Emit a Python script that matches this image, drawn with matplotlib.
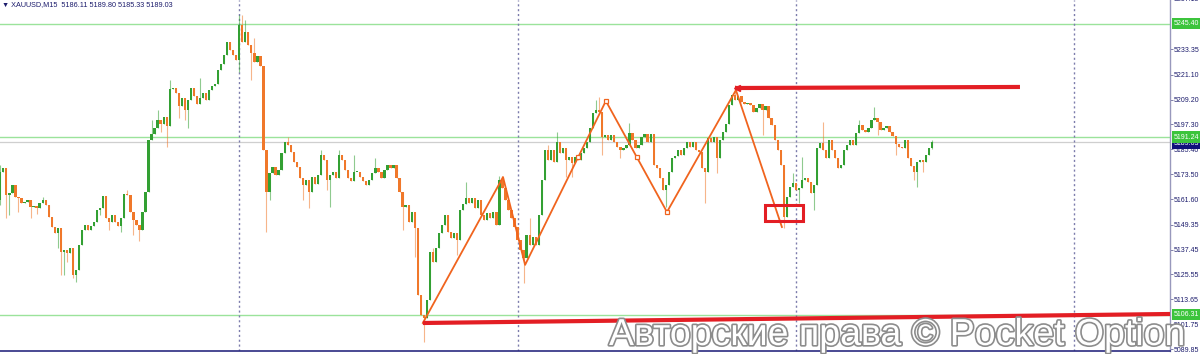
import matplotlib
matplotlib.use('Agg')
import matplotlib.pyplot as plt
import matplotlib.patheffects as pe
import matplotlib.transforms as mtransforms
from matplotlib.patches import Rectangle

# ---------------- data (XAUUSD M15) ----------------
first_open = 5161.1
closes = [
    5174.5, 5176.4, 5163.5, 5164.5, 5168.3, 5162.6, 5162.1, 5159.7, 5160.2, 5161.1,
    5157.8, 5158.3, 5157.3, 5159.7, 5161.1, 5158.7, 5153.0, 5148.2, 5145.4, 5147.7,
    5136.3, 5137.2, 5135.8, 5138.2, 5125.3, 5127.7, 5139.6, 5146.8, 5149.2, 5146.8,
    5148.7, 5150.6, 5156.4, 5157.3, 5163.1, 5152.5, 5150.6, 5154.0, 5150.6, 5148.7,
    5152.5, 5164.0, 5163.5, 5155.4, 5151.6, 5149.2, 5146.8, 5155.4, 5165.0, 5189.8,
    5192.7, 5195.6, 5199.4, 5197.5, 5200.8, 5196.5, 5214.2, 5214.7, 5212.3, 5206.1,
    5209.9, 5204.2, 5209.0, 5214.7, 5210.9, 5207.1, 5209.9, 5212.3, 5209.0, 5213.7,
    5215.7, 5216.6, 5223.3, 5226.2, 5230.5, 5236.7, 5232.9, 5230.5, 5228.1, 5244.8,
    5236.7, 5241.5, 5235.3, 5231.5, 5227.1, 5230.0, 5225.2, 5185.1, 5165.0, 5174.1,
    5176.9, 5173.1, 5175.5, 5183.6, 5188.9, 5187.4, 5184.1, 5179.3, 5176.9, 5171.7,
    5168.3, 5170.7, 5165.0, 5172.1, 5168.8, 5173.1, 5182.7, 5180.3, 5170.7, 5173.1,
    5174.5, 5171.7, 5182.7, 5180.3, 5175.5, 5171.7, 5170.2, 5174.5, 5174.6, 5172.1,
    5170.2, 5168.3, 5170.7, 5174.1, 5176.4, 5174.5, 5171.7, 5175.5, 5177.9, 5176.4,
    5177.9, 5171.7, 5165.0, 5157.8, 5158.7, 5150.6, 5155.4, 5147.7, 5115.7, 5106.1,
    5104.7, 5113.3, 5136.3, 5131.5, 5138.2, 5145.4, 5149.2, 5154.0, 5145.8, 5143.0,
    5145.4, 5142.0, 5156.4, 5159.2, 5162.1, 5159.7, 5162.1, 5157.3, 5161.1, 5154.0,
    5151.6, 5154.9, 5152.5, 5155.4, 5149.2, 5170.7, 5166.9, 5161.1, 5156.4, 5152.5,
    5148.2, 5142.0, 5137.2, 5133.4, 5144.4, 5139.6, 5143.4, 5139.6, 5154.0, 5170.7,
    5185.1, 5180.3, 5185.1, 5179.3, 5188.9, 5183.6, 5186.0, 5180.3, 5181.7, 5178.8,
    5181.7, 5180.3, 5183.6, 5186.0, 5188.9, 5195.6, 5202.8, 5204.2, 5203.2, 5191.3,
    5192.2, 5189.8, 5192.2, 5188.9, 5186.5, 5185.1, 5186.0, 5187.4, 5193.2, 5189.8,
    5186.0, 5187.4, 5191.3, 5192.7, 5188.9, 5192.7, 5177.9, 5176.4, 5171.7, 5165.9,
    5168.3, 5174.5, 5181.2, 5182.2, 5185.1, 5182.7, 5186.0, 5188.9, 5186.5, 5188.9,
    5185.1, 5184.1, 5176.4, 5174.5, 5190.8, 5188.9, 5191.3, 5181.2, 5189.8, 5193.7,
    5197.5, 5206.6, 5211.4, 5209.0, 5210.9, 5208.0, 5207.1, 5207.5, 5206.6, 5203.2,
    5205.3, 5207.1, 5204.2, 5206.1, 5200.4, 5197.0, 5189.8, 5185.1, 5177.9, 5153.0,
    5162.6, 5167.4, 5169.3, 5165.9, 5166.9, 5170.7, 5171.7, 5169.7, 5164.5, 5168.3,
    5186.0, 5188.4, 5185.1, 5181.2, 5189.8, 5185.1, 5181.2, 5176.4, 5177.9, 5185.1,
    5187.4, 5189.8, 5187.4, 5193.2, 5197.0, 5194.6, 5193.7, 5195.6, 5199.4, 5200.4,
    5198.4, 5194.6, 5195.6, 5196.5, 5193.7, 5191.7, 5187.9, 5186.5, 5186.0, 5189.8,
    5181.2, 5177.4, 5174.5, 5179.3, 5180.3, 5179.3, 5182.7, 5186.11, 5189.03,
]
wick_highs = {0: 5177.9, 14: 5162.6, 42: 5165.9, 50: 5199.4, 52: 5204.2, 56: 5218.5,
              66: 5219.5, 79: 5249.6, 80: 5249.6, 81: 5247.2, 84: 5238.6, 95: 5191.3,
              106: 5185.1, 112: 5185.1, 117: 5182.7, 124: 5181.2, 143: 5138.2, 154: 5169.7,
              165: 5172.6, 166: 5172.6, 175: 5152.5, 181: 5187.4, 184: 5193.7, 197: 5209.0,
              198: 5210.4, 208: 5198.0, 243: 5216.0, 262: 5174.1, 265: 5181.7, 272: 5198.4,
              284: 5199.4, 289: 5205.6, 308: 5189.80}
wick_lows = {0: 5158.7, 2: 5152.5, 3: 5154.0, 6: 5155.4, 10: 5152.5, 12: 5154.4, 19: 5138.2,
             20: 5125.3, 21: 5125.3, 22: 5131.5, 24: 5123.8, 25: 5121.9, 33: 5154.0, 36: 5146.8,
             40: 5145.8, 44: 5144.4, 46: 5141.5, 53: 5193.7, 55: 5186.5, 59: 5200.4, 61: 5199.4,
             62: 5195.6, 79: 5222.4, 83: 5218.5, 88: 5145.8, 89: 5161.1, 100: 5161.1, 102: 5157.3,
             108: 5165.9, 109: 5157.8, 133: 5146.8, 137: 5133.9, 140: 5093.2, 151: 5134.8,
             173: 5121.4, 187: 5172.1, 189: 5172.1, 199: 5182.7, 205: 5181.2, 220: 5157.8,
             233: 5159.7, 237: 5174.1, 252: 5192.2, 259: 5147.7, 264: 5159.7, 269: 5156.4,
             290: 5192.2, 296: 5182.7, 302: 5170.7, 303: 5167.4, 305: 5174.5, 308: 5185.33}

price_ticks = [5233.35, 5221.10, 5209.20, 5197.30, 5185.40, 5173.50, 5161.60,
               5149.35, 5137.45, 5125.55, 5113.65, 5101.75, 5089.85]
top_tick = "5257.15"
level_prices = [5245.40, 5191.24, 5106.31]
level_labels = ["5245.40", "5191.24", "5106.31"]
current_price = 5189.03
current_label = "5189.03"
separators = [79, 171, 263, 355]

zz_idx = [139.7, 166.2, 173.5, 200.2, 220.4, 243.2, 258.4]
zz_price = [5102.3, 5172.1, 5130.1, 5208.5, 5155.4, 5213.7, 5148.2]
mk_idx = [191.0, 200.2, 210.5, 220.4]
mk_price = [5181.7, 5208.5, 5181.7, 5155.4]

res_idx = [242.9, 337.1]
res_price = [5214.7, 5215.2]
sup_idx = [139.7, 386.7]
sup_price = [5102.3, 5106.6]
box_idx = (252.8, 265.4)
box_price = (5151.0, 5158.7)

title = "▼ XAUUSD,M15  5186.11 5189.80 5185.33 5189.03"
watermark = "Авторские права © Pocket Option"

# ---------------- figure ----------------
GREEN = '#33a033'
ORANGE = '#f0782a'
RED = '#e31e24'
NAVY = '#1c1c6c'
FONT = ['Liberation Sans', 'DejaVu Sans']

fig = plt.figure(figsize=(12, 3.54), dpi=100)
fig.patch.set_facecolor('white')
ax = fig.add_axes([0, 3 / 354, 1170 / 1200, 351 / 354])
ax.set_xlim(-0.1, 386.7)
ax.set_ylim(5088.9, 5256.8)

for s in ['left', 'top']:
    ax.spines[s].set_visible(False)
ax.spines['right'].set_color('#9898bc')
ax.spines['right'].set_linewidth(1.0)
ax.spines['bottom'].set_color('#2a2a80')
ax.spines['bottom'].set_linewidth(1.2)
ax.set_xticks([])

# reference levels
for p in level_prices:
    ax.axhline(p, color='#9be39b', lw=1.0, zorder=1)
ax.axhline(current_price, color='#cfcfcf', lw=0.9, zorder=1)
for s in separators:
    ax.axvline(s, color='#7c7cac', lw=1.0, ls=(0, (1.5, 2)), zorder=1)

# candles
opens = [first_open] + closes[:-1]
opens[-1] = 5186.11
for i, (o, c) in enumerate(zip(opens, closes)):
    col = GREEN if c >= o else ORANGE
    hi = max(o, c, wick_highs.get(i, max(o, c)))
    lo = min(o, c, wick_lows.get(i, min(o, c)))
    ax.vlines(i, lo, hi, color=col, lw=0.8, alpha=0.55, zorder=2)
    h = c - o
    if abs(h) < 0.4:
        h = 0.4 if h >= 0 else -0.4
    ax.bar(i, h, bottom=o, width=0.75, color=col, linewidth=0, zorder=3)

# zigzag
ax.plot(zz_idx, zz_price, color='#f0641e', lw=1.3, zorder=4)
ax.plot(mk_idx, mk_price, 's', ms=3.2, mfc='white', mec='#f0641e', mew=0.9, zorder=5)

# red lines
ax.plot(res_idx, res_price, color=RED, lw=3.0, solid_capstyle='butt', zorder=6)
ax.plot(res_idx[0] + 0.6, res_price[0], marker='<', ms=4, color=RED, zorder=6)
ax.plot(sup_idx, sup_price, color=RED, lw=3.0, solid_capstyle='butt', zorder=6, clip_on=False)
ax.add_patch(Rectangle((box_idx[0], box_price[0]), box_idx[1] - box_idx[0],
                       box_price[1] - box_price[0], fill=False, ec=RED, lw=2.2, zorder=6))

# right axis
ax.yaxis.tick_right()
ax.set_yticks(price_ticks)
ax.set_yticklabels([f"{t:.2f}" for t in price_ticks], family=FONT)
ax.tick_params(axis='y', direction='out', length=2, width=0.6, color='#6a6a9a',
               labelsize=5, labelcolor=NAVY, pad=1.0)
trans = mtransforms.blended_transform_factory(ax.transAxes, ax.transData)
ax.text(1.0035, 5257.15, top_tick, transform=trans, fontsize=5, color=NAVY, family=FONT,
        va='center', ha='left', clip_on=False)
for p, lab in zip(level_prices, level_labels):
    ax.text(1.0032, p, lab, transform=trans, fontsize=5, color='white', va='center',
            ha='left', clip_on=False, zorder=10, family=FONT,
            bbox=dict(boxstyle='square,pad=0.3', fc='#3cc43c', ec='none'))
ax.text(1.0032, current_price - 1.0, current_label, transform=trans, fontsize=5,
        color='white', va='center', ha='left', clip_on=False, zorder=9, family=FONT,
        bbox=dict(boxstyle='square,pad=0.3', fc='#10107a', ec='none'))

# title
fig.text(2 / 1200, 1 - 4.5 / 354, title, fontsize=5.2, color=NAVY, va='center', ha='left',
         family=FONT)

# watermark
fig.text(609 / 1200, 9 / 354, watermark, fontsize=27, family='Liberation Sans',
         color='white', va='baseline', ha='left', zorder=20,
         path_effects=[pe.withStroke(linewidth=2.4, foreground='#8c8c8c')])

fig.savefig('out.png', dpi=100, facecolor='white')
